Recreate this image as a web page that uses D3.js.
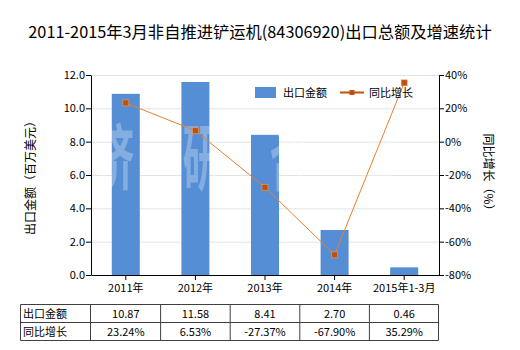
<!DOCTYPE html>
<html>
<head>
<meta charset="utf-8">
<script src="https://cdn.jsdelivr.net/npm/d3@7/dist/d3.min.js"></script>
<style>
  html, body { margin: 0; padding: 0; background: #fff; }
  svg { display: block; }
  text { font-family: "Noto Sans CJK SC", "Noto Sans", sans-serif; }
</style>
</head>
<body>
<svg id="chart" width="520" height="350"></svg>
<script>
// Export value (million USD) and year-on-year growth (%)
const categories = ["2011年", "2012年", "2013年", "2014年", "2015年1-3月"];
const exportValues = [10.87, 11.58, 8.41, 2.70, 0.46];
const growthRates = [23.24, 6.53, -27.37, -67.90, 35.29];
const leftTicks = [0, 2, 4, 6, 8, 10, 12];
const rightTicks = [-80, -60, -40, -20, 0, 20, 40];
const rowLabels = ["出口金额", "同比增长"];

const svg = d3.select("#chart");
const plot = { left: 91, right: 439, top: 75, bottom: 275 };
const barColor = "#558ED5";
const lineColor = "#E8802F";
const markColor = "#C0500F";

svg.append("text")
  .attr("x", 260).attr("y", 38)
  .attr("text-anchor", "middle")
  .attr("font-size", 16.3)
  .attr("fill", "#000")
  .text("2011-2015年3月非自推进铲运机(84306920)出口总额及增速统计");

const yL = d3.scaleLinear().domain([0, 12]).range([plot.bottom, plot.top]);
const yR = d3.scaleLinear().domain([-80, 40]).range([plot.bottom, plot.top]);
const band = d3.scaleBand().domain(categories).range([plot.left, plot.right]);

// horizontal grid
svg.append("g").selectAll("line").data(leftTicks.slice(1)).join("line")
  .attr("x1", plot.left).attr("x2", plot.right)
  .attr("y1", d => yL(d) + 0.5).attr("y2", d => yL(d) + 0.5)
  .attr("stroke", "#e3e3e3").attr("stroke-width", 1);

// bars
svg.append("g").selectAll("rect").data(exportValues).join("rect")
  .attr("x", (d, i) => band(categories[i]) + band.bandwidth() / 2 - 14)
  .attr("width", 28)
  .attr("y", d => yL(d))
  .attr("height", d => plot.bottom - yL(d))
  .attr("fill", barColor);

// watermark
const wm = svg.append("g").attr("fill", "#ffffff").attr("opacity", 0.28)
  .attr("font-weight", "bold");
["济", "研", "咨", "询"].forEach((c, i) => {
  wm.append("text")
    .attr("transform", `translate(${115 + i * 87},184) scale(0.8,1.5)`)
    .attr("text-anchor", "middle")
    .attr("font-size", 48)
    .text(c);
});

// axes
const axL = svg.append("g").attr("transform", `translate(${plot.left},0)`)
  .call(d3.axisLeft(yL).tickValues(leftTicks).tickFormat(d3.format(".1f")).tickSize(5).tickSizeOuter(0));
const axR = svg.append("g").attr("transform", `translate(${plot.right},0)`)
  .call(d3.axisRight(yR).tickValues(rightTicks).tickFormat(d => d + "%").tickSize(5).tickSizeOuter(0));
const axB = svg.append("g").attr("transform", `translate(0,${plot.bottom})`)
  .call(d3.axisBottom(band).tickSize(5).tickSizeOuter(0));
[axL, axR, axB].forEach(a => {
  a.select(".domain").attr("stroke", "#000");
  a.selectAll(".tick line").attr("stroke", "#000");
  a.selectAll("text").attr("font-size", 11).attr("fill", "#000")
    .attr("font-family", "'Noto Sans CJK SC', sans-serif");
});
axL.selectAll("text").attr("x", -6);
axR.selectAll("text").attr("x", 6);
axB.selectAll("text").attr("y", 9);

// axis titles
svg.append("text")
  .attr("transform", "translate(35,175) rotate(-90)")
  .attr("text-anchor", "middle").attr("font-size", 12).attr("fill", "#000")
  .text("出口金额（百万美元）");
svg.append("text")
  .attr("transform", "translate(484,175) rotate(90)")
  .attr("text-anchor", "middle").attr("font-size", 12).attr("fill", "#000")
  .text("同比增长（%）");

// growth line
const cx = (d, i) => band(categories[i]) + band.bandwidth() / 2;
svg.append("path")
  .datum(growthRates)
  .attr("fill", "none").attr("stroke", lineColor).attr("stroke-width", 1)
  .attr("d", d3.line().x(cx).y(d => yR(d)));
svg.append("g").selectAll("rect").data(growthRates).join("rect")
  .attr("x", (d, i) => cx(d, i) - 3).attr("y", d => yR(d) - 3)
  .attr("width", 6).attr("height", 6)
  .attr("fill", markColor).attr("stroke", "#F0A050").attr("stroke-width", 0.6);

// legend
const lg = svg.append("g");
lg.append("rect").attr("x", 255).attr("y", 87).attr("width", 21).attr("height", 11).attr("fill", barColor);
lg.append("text").attr("x", 283).attr("y", 97).attr("font-size", 11).attr("fill", "#000").text("出口金额");
lg.append("line").attr("x1", 340).attr("x2", 364).attr("y1", 92.5).attr("y2", 92.5)
  .attr("stroke", markColor).attr("stroke-width", 2);
lg.append("rect").attr("x", 349.5).attr("y", 90).attr("width", 5).attr("height", 5).attr("fill", markColor);
lg.append("text").attr("x", 369).attr("y", 97).attr("font-size", 11).attr("fill", "#000").text("同比增长");

// data table
const table = { left: 20.5, firstCol: 90.5, top: 304.5, rowH: 18, right: 438.5 };
const tg = svg.append("g");
const cols = [table.left, table.firstCol].concat(categories.map((c, i) => band(c) + band.bandwidth()));
cols[cols.length - 1] = table.right;
[0, 1, 2].forEach(r => {
  tg.append("line").attr("x1", table.left).attr("x2", table.right)
    .attr("y1", table.top + r * table.rowH).attr("y2", table.top + r * table.rowH)
    .attr("stroke", "#404040");
});
cols.forEach(cxv => {
  tg.append("line").attr("x1", cxv).attr("x2", cxv)
    .attr("y1", table.top).attr("y2", table.top + 2 * table.rowH)
    .attr("stroke", "#404040");
});
const rows = [exportValues.map(v => v.toFixed(2)), growthRates.map(v => v.toFixed(2) + "%")];
rows.forEach((row, r) => {
  const yy = table.top + r * table.rowH + 13.5;
  tg.append("text").attr("x", 23).attr("y", yy).attr("font-size", 11).attr("fill", "#000").text(rowLabels[r]);
  row.forEach((t, i) => {
    tg.append("text").attr("x", cx(0, i)).attr("y", yy).attr("text-anchor", "middle")
      .attr("font-size", 11).attr("fill", "#000").text(t);
  });
});
</script>
</body>
</html>
